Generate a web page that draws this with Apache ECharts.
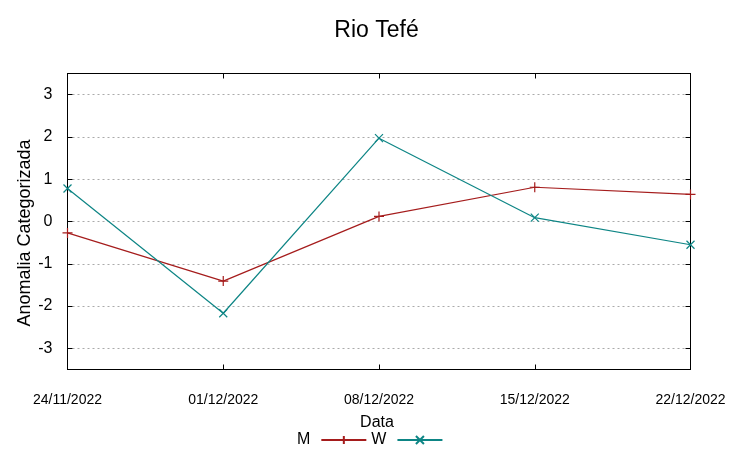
<!DOCTYPE html>
<html><head><meta charset="utf-8">
<script src="https://cdn.jsdelivr.net/npm/echarts@6/dist/echarts.min.js"></script>
<style>html,body{margin:0;padding:0;background:#fff}#c{width:753px;height:458px}</style>
</head><body><div id="c"></div>
<script>
const dates = ['24/11/2022','01/12/2022','08/12/2022','15/12/2022','22/12/2022'];
const seriesM = [-0.27,-1.41,0.12,0.81,0.64];
const seriesW = [0.78,-2.17,1.97,0.09,-0.55];
const yMin = -3.5, yMax = 3.5;
const colM = '#a51c1c', colW = '#0d8585';
const FONT = '"Liberation Sans", Arial, sans-serif';
const plus = 'path://M0,-5L0,5M-5,0L5,0';
const cross = 'path://M-5,-5L5,5M-5,5L5,-5';
const chart = echarts.init(document.getElementById('c'), null, {renderer:'canvas'});
const axisLine = {show:true, onZero:false, lineStyle:{color:'#000', width:1}};
chart.setOption({
  animation:false,
  backgroundColor:'#fff',
  title:{text:'Rio Tefé', left:'center', top:14, textStyle:{fontFamily:FONT, fontSize:23, fontWeight:'normal', color:'#000'}},
  grid:{left:67.5, right:62.5, top:73.5, bottom:88.5, containLabel:false},
  legend:{
    bottom:5, left:292, align:'right', itemWidth:45, itemHeight:10, itemGap:4,
    textStyle:{fontFamily:FONT, fontSize:16, color:'#000', padding:[0,6,0,0]},
    data:['M','W']
  },
  xAxis:[{
    type:'category', data:dates, boundaryGap:false, position:'bottom',
    axisLine:axisLine, axisTick:{show:true, inside:true, length:5, lineStyle:{color:'#000'}},
    axisLabel:{margin:24, fontFamily:FONT, fontSize:14, color:'#000'},
    splitLine:{show:false}
  },{
    type:'category', data:dates, boundaryGap:false, position:'top',
    axisLine:axisLine, axisTick:{show:true, inside:true, length:5, lineStyle:{color:'#000'}},
    axisLabel:{show:false}, splitLine:{show:false}
  }],
  yAxis:[{
    type:'value', min:yMin, max:yMax, splitNumber:7, position:'left',
    axisLine:axisLine, axisTick:{show:true, inside:true, length:5, lineStyle:{color:'#000'}},
    axisLabel:{margin:15, fontFamily:FONT, fontSize:16, color:'#000',
      formatter:v=> Number.isInteger(v) ? String(v) : ''},
    splitLine:{show:true, lineStyle:{color:'#aaa', type:[2,3], width:1}}
  },{
    type:'value', min:yMin, max:yMax, splitNumber:7, position:'right',
    axisLine:axisLine, axisTick:{show:true, inside:true, length:5, lineStyle:{color:'#000'}},
    axisLabel:{show:false}, splitLine:{show:false}
  }],
  graphic:[
    {type:'text', x:25, y:233, rotation:Math.PI/2,
      style:{text:'Anomalia Categorizada', fontFamily:FONT, fontSize:18, fill:'#000', align:'center', verticalAlign:'middle'}},
    {type:'text', x:377, y:423,
      style:{text:'Data', fontFamily:FONT, fontSize:16, fill:'#000', align:'center', verticalAlign:'middle'}}
  ],
  series:[
    {name:'M', type:'line', data:seriesM, symbol:plus, symbolSize:10, showSymbol:true,
      lineStyle:{color:colM, width:1.2}, itemStyle:{color:colM, borderColor:colM, borderWidth:1.2}},
    {name:'W', type:'line', data:seriesW, symbol:cross, symbolSize:8, showSymbol:true,
      lineStyle:{color:colW, width:1.2}, itemStyle:{color:colW, borderColor:colW, borderWidth:1.2}}
  ]
});
</script></body></html>
